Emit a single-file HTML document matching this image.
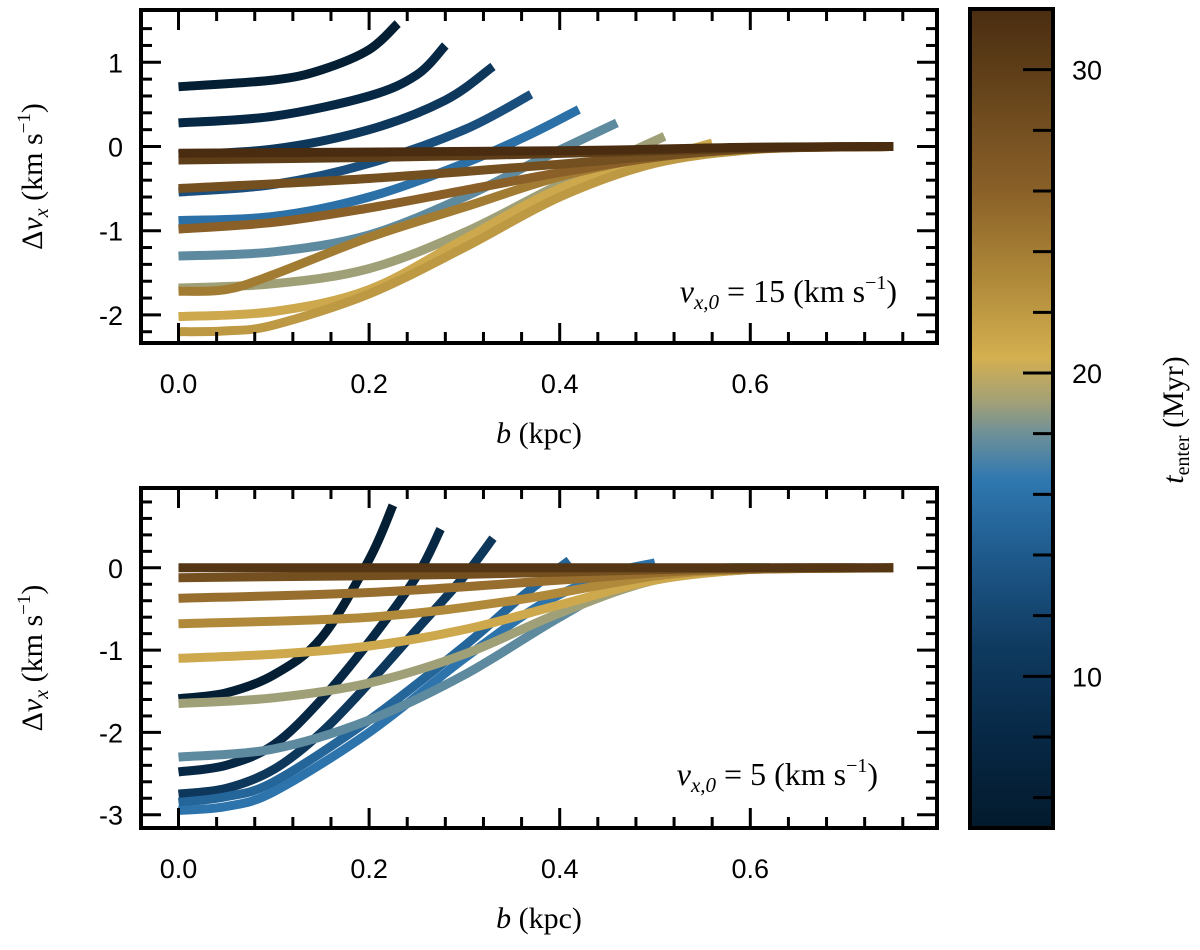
<!DOCTYPE html>
<html><head><meta charset="utf-8"><style>
html,body{margin:0;padding:0;background:#fff;}
svg{display:block;}
.tl{font-family:"Liberation Sans",sans-serif;font-size:27px;fill:#000;}
.lx{font-family:"Liberation Serif",serif;font-size:30px;fill:#000;}
</style></head><body>
<svg id="fig" width="1200" height="950" viewBox="0 0 1200 950" xmlns="http://www.w3.org/2000/svg">
<defs>
<linearGradient id="cmap" x1="0" y1="1" x2="0" y2="0"></linearGradient>
</defs>
<g id="top"></g>
<g id="bot"></g>
<g id="cbar"></g>
</svg>
<script>
// ---- data ----
const xTicks = [0.0, 0.2, 0.4, 0.6];
const xTickLabels = ["0.0", "0.2", "0.4", "0.6"];
const topYTicks = [1, 0, -1, -2];
const topYTickLabels = ["1", "0", "-1", "-2"];
const botYTicks = [0, -1, -2, -3];
const botYTickLabels = ["0", "-1", "-2", "-3"];
const cbarTicks = [10, 20, 30];
const cbarTickLabels = ["10", "20", "30"];
const cmapT = [5, 8, 11, 14, 16.5, 18, 19, 20.5, 23, 26, 30, 32];
const cmapC = ["#031a2c","#072845","#0f3a60","#1f5a8c","#2f78b0","#6e9098","#a0a078","#d4b050","#b08a3a","#8a6028","#5e3e18","#4a2c10"];

// top panel (v_x,0 = 15): t_enter and [b, dv] knots
const topT = [6, 8, 10.5, 13, 15.8, 17.6, 19, 21, 22, 24, 26, 28, 30, 32];
const topB = [
 [0,0.1,0.15,0.2,0.23],
 [0,0.1,0.2,0.25,0.28],
 [0,0.1,0.2,0.28,0.33],
 [0,0.1,0.2,0.3,0.37],
 [0,0.1,0.2,0.3,0.37,0.42],
 [0,0.1,0.2,0.3,0.38,0.46],
 [0,0.1,0.2,0.3,0.4,0.51],
 [0,0.1,0.2,0.3,0.4,0.5,0.56],
 [0,0.05,0.1,0.2,0.3,0.4,0.5,0.6,0.7],
 [0,0.05,0.1,0.2,0.3,0.4,0.5,0.6,0.75],
 [0,0.1,0.2,0.3,0.4,0.5,0.6,0.75],
 [0,0.2,0.4,0.6,0.75],
 [0,0.3,0.6,0.75],
 [0,0.4,0.6,0.75]
];
const topV = [
 [0.71,0.79,0.91,1.15,1.46],
 [0.28,0.36,0.6,0.85,1.2],
 [-0.1,-0.03,0.2,0.55,0.95],
 [-0.54,-0.45,-0.2,0.2,0.62],
 [-0.88,-0.83,-0.6,-0.2,0.15,0.44],
 [-1.3,-1.25,-1.05,-0.6,-0.15,0.28],
 [-1.68,-1.63,-1.45,-1.02,-0.45,0.12],
 [-2.02,-1.96,-1.7,-1.1,-0.5,-0.15,0.04],
 [-2.2,-2.19,-2.12,-1.75,-1.2,-0.6,-0.2,-0.04,0],
 [-1.72,-1.7,-1.52,-1.08,-0.72,-0.36,-0.12,-0.02,0],
 [-0.98,-0.9,-0.73,-0.52,-0.31,-0.13,-0.03,0],
 [-0.5,-0.38,-0.21,-0.03,0],
 [-0.16,-0.11,-0.02,0],
 [-0.08,-0.05,-0.01,0]
];
// bottom panel (v_x,0 = 5)
const botT = [6, 8, 10.5, 15, 16.2, 17.6, 19, 21, 23, 25, 28, 31];
const botB = [
 [0,0.05,0.1,0.15,0.2,0.225],
 [0,0.05,0.1,0.15,0.2,0.25,0.275],
 [0,0.05,0.1,0.15,0.2,0.25,0.3,0.33],
 [0,0.05,0.1,0.2,0.3,0.36,0.41],
 [0,0.05,0.1,0.2,0.3,0.38,0.45,0.5],
 [0,0.1,0.2,0.3,0.4,0.48,0.56,0.62],
 [0,0.1,0.2,0.3,0.4,0.5,0.6,0.65],
 [0,0.1,0.2,0.3,0.4,0.5,0.6,0.68],
 [0,0.2,0.35,0.5,0.6,0.75],
 [0,0.2,0.4,0.55,0.75],
 [0,0.3,0.55,0.75],
 [0,0.75]
];
const botV = [
 [-1.59,-1.52,-1.3,-0.85,0.1,0.76],
 [-2.48,-2.4,-2.15,-1.6,-0.9,-0.1,0.47],
 [-2.75,-2.68,-2.45,-2.0,-1.4,-0.75,-0.1,0.36],
 [-2.85,-2.78,-2.6,-1.85,-0.95,-0.35,0.09],
 [-2.95,-2.9,-2.72,-2.0,-1.1,-0.45,-0.08,0.06],
 [-2.3,-2.2,-1.85,-1.3,-0.6,-0.12,-0.01,0],
 [-1.65,-1.58,-1.4,-1.05,-0.55,-0.15,-0.02,0],
 [-1.1,-1.05,-0.95,-0.75,-0.45,-0.15,-0.02,0],
 [-0.68,-0.6,-0.4,-0.1,-0.02,0],
 [-0.37,-0.3,-0.15,-0.03,0],
 [-0.12,-0.08,-0.01,0],
 [0,0]
];

// ---- helpers ----
const NS = "http://www.w3.org/2000/svg";
function mk(tag, attrs, parent){const e=document.createElementNS(NS,tag);for(const k in attrs)e.setAttribute(k,attrs[k]);parent.appendChild(e);return e;}
function hex(c){return [parseInt(c.slice(1,3),16),parseInt(c.slice(3,5),16),parseInt(c.slice(5,7),16)];}
function cmap(t){
  if(t<=cmapT[0])return cmapC[0];
  for(let i=1;i<cmapT.length;i++){if(t<=cmapT[i]){const f=(t-cmapT[i-1])/(cmapT[i]-cmapT[i-1]);const a=hex(cmapC[i-1]),b=hex(cmapC[i]);return "rgb("+a.map((v,j)=>Math.round(v+(b[j]-v)*f)).join(",")+")";}}
  return cmapC[cmapC.length-1];
}
function smoothPath(pts){
  let d="M"+pts[0][0].toFixed(1)+","+pts[0][1].toFixed(1);
  for(let i=0;i<pts.length-1;i++){
    const p0=pts[Math.max(0,i-1)],p1=pts[i],p2=pts[i+1],p3=pts[Math.min(pts.length-1,i+2)];
    const c1=[p1[0]+(p2[0]-p0[0])/6,p1[1]+(p2[1]-p0[1])/6];
    const c2=[p2[0]-(p3[0]-p1[0])/6,p2[1]-(p3[1]-p1[1])/6];
    d+=" C"+c1[0].toFixed(1)+","+c1[1].toFixed(1)+" "+c2[0].toFixed(1)+","+c2[1].toFixed(1)+" "+p2[0].toFixed(1)+","+p2[1].toFixed(1);
  }
  return d;
}

// gradient
const grad=document.getElementById("cmap");
cmapT.forEach((t,i)=>{mk("stop",{offset:((t-5)/27).toFixed(4),"stop-color":cmapC[i]},grad);});

function panel(g, cfg){
  const L=141,R=937,T=cfg.top,B=cfg.bottom;
  const xs=b=>178.5+b*953;
  const ys=v=>cfg.y0-v*cfg.ppu;
  const clipId=cfg.id+"clip";
  const cp=mk("clipPath",{id:clipId},g);
  mk("rect",{x:L,y:T,width:R-L,height:B-T},cp);
  const lines=mk("g",{"clip-path":"url(#"+clipId+")"},g);
  
  
  const order=cfg.T.map((t,i)=>i);
  if(cfg.reverse)order.reverse();
  order.forEach(i=>{
    const pts=cfg.B[i].map((b,j)=>[xs(b),ys(cfg.V[i][j])]);
    const p=mk("path",{d:smoothPath(pts),fill:"none",stroke:cmap(cfg.T[i]),"stroke-width":9,"stroke-linecap":"butt"},lines);
    
    
  });
  // ticks
  const tk=mk("g",{stroke:"#000","stroke-width":3},g);
  
  
  for(let k=0;k<=22;k++){const b=-0.04+k*0.04;const x=xs(b);if(x<L+2||x>R-2)continue;const major=Math.abs(Math.round(b/0.2)*0.2-b)<1e-6;const len=major?20:11;
    mk("line",{x1:x,y1:B,x2:x,y2:B-len},tk);mk("line",{x1:x,y1:T,x2:x,y2:T+len},tk);}
  for(let k=-20;k<=10;k++){const v=k*0.2;const y=ys(v);if(y<T+2||y>B-2)continue;const major=Math.abs(Math.round(v)-v)<1e-6;const len=major?20:11;
    mk("line",{x1:L,y1:y,x2:L+len,y2:y},tk);mk("line",{x1:R,y1:y,x2:R-len,y2:y},tk);}
  const fr=mk("rect",{x:L,y:T,width:R-L,height:B-T,fill:"none",stroke:"#000","stroke-width":4},g);
  
  
  xTicks.forEach((b,i)=>{const t=mk("text",{x:xs(b),y:B+50,"text-anchor":"middle",class:"tl"},g);t.textContent=xTickLabels[i];
    
    });
  cfg.yt.forEach((v,i)=>{const t=mk("text",{x:L-18,y:ys(v)+10,"text-anchor":"end",class:"tl"},g);t.textContent=cfg.ytl[i];
    
    });
  const xl=mk("text",{x:539,y:B+100,"text-anchor":"middle",class:"lx"},g);
  xl.innerHTML='<tspan font-style="italic">b</tspan> (kpc)';
  
  
  const cy=(T+B)/2;
  const yl=mk("text",{x:0,y:0,"text-anchor":"middle",class:"lx",transform:"translate(42,"+cy+") rotate(-90)"},g);
  yl.innerHTML='Δ<tspan font-style="italic">v</tspan><tspan font-style="italic" font-size="20" dy="6">x</tspan><tspan dy="-6"> (km s</tspan><tspan font-size="19" dy="-12">−1</tspan><tspan dy="12">)</tspan>';
  
  
  const an=mk("text",{x:cfg.annX,y:cfg.annY,"text-anchor":"end",class:"lx",style:"font-size:32px"},g);
  an.innerHTML='<tspan font-style="italic">v</tspan><tspan font-style="italic" font-size="21" dy="7">x,0</tspan><tspan dy="-7"> = '+cfg.vx+' (km s</tspan><tspan font-size="20" dy="-13">−1</tspan><tspan dy="13">)</tspan>';
  
  
}
panel(document.getElementById("top"),{id:"t",top:10,bottom:343,y0:146.5,ppu:84.2,T:topT,B:topB,V:topV,yt:topYTicks,ytl:topYTickLabels,annX:897,annY:302,vx:"15",reverse:false});
panel(document.getElementById("bot"),{id:"b",top:488,bottom:828,y0:567.8,ppu:82.3,T:botT,B:botB,V:botV,yt:botYTicks,ytl:botYTickLabels,annX:878,annY:785,vx:"5",reverse:false});

// colorbar
(function(){
  const g=document.getElementById("cbar");
  const L=970,R=1053,T=9,B=828;
  const ys=t=>B-(t-5)/27*(B-T);
  const r=mk("rect",{x:L,y:T,width:R-L,height:B-T,fill:"url(#cmap)",stroke:"#000","stroke-width":4},g);
  
  
  for(let t=6;t<=32;t+=2){const y=ys(t);const major=t%10===0;
    mk("line",{x1:R,y1:y,x2:R-(major?30:20),y2:y,stroke:"#000","stroke-width":3},g);}
  cbarTicks.forEach((t,i)=>{const tx=mk("text",{x:1072,y:ys(t)+10,class:"tl"},g);tx.textContent=cbarTickLabels[i];
    
    });
  const lb=mk("text",{x:0,y:0,"text-anchor":"middle",class:"lx",transform:"translate(1183,420) rotate(-90)"},g);
  lb.innerHTML='<tspan font-style="italic">t</tspan><tspan font-size="20" dy="6">enter</tspan><tspan dy="-6"> (Myr)</tspan>';
  
  
})();
</script>
</body></html>
